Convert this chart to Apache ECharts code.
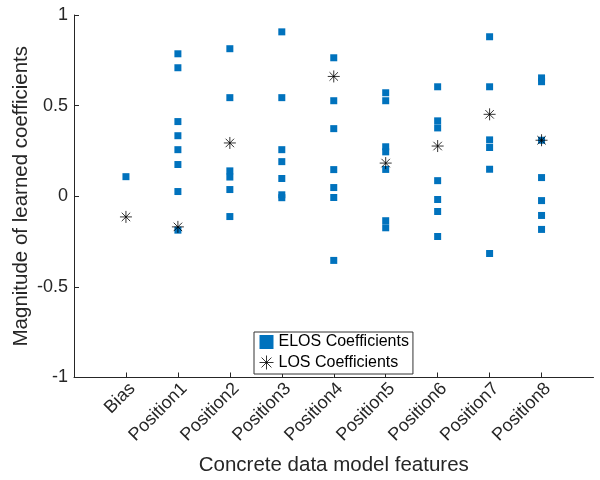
<!DOCTYPE html>
<html>
<head>
<meta charset="utf-8">
<script src="https://cdn.jsdelivr.net/npm/echarts@6/dist/echarts.min.js"></script>
<style>
  html, body { margin: 0; padding: 0; background: #fff; }
  #chart { width: 600px; height: 480px; }
</style>
</head>
<body>
<div id="chart"></div>
<script>
// feature names along the x axis
var categories = ['Bias', 'Position1', 'Position2', 'Position3', 'Position4',
                  'Position5', 'Position6', 'Position7', 'Position8'];

// ELOS coefficients, one list per feature
var elosBias = [0.108];
var elosPos1 = [0.786, 0.709, 0.412, 0.334, 0.257, 0.175, 0.026, -0.187];
var elosPos2 = [0.814, 0.544, 0.140, 0.106, 0.037, -0.112];
var elosPos3 = [0.907, 0.544, 0.257, 0.191, 0.098, 0.008, -0.008];
var elosPos4 = [0.764, 0.527, 0.373, 0.147, 0.048, -0.007, -0.354];
var elosPos5 = [0.571, 0.527, 0.273, 0.245, 0.148, -0.135, -0.174];
var elosPos6 = [0.604, 0.416, 0.377, 0.086, -0.018, -0.084, -0.222];
var elosPos7 = [0.880, 0.604, 0.311, 0.269, 0.149, -0.316];
var elosPos8 = [0.653, 0.632, 0.309, 0.103, -0.024, -0.106, -0.183];

// LOS coefficients (none shown for Position3)
var losValues = [-0.114, -0.169, 0.294, null, 0.661, 0.183, 0.277, 0.452, 0.309];

var elosLists = [elosBias, elosPos1, elosPos2, elosPos3, elosPos4,
                 elosPos5, elosPos6, elosPos7, elosPos8];

// features sit at x = 1..9 on an axis running 0..10
var xPositions = categories.map(function (c, i) { return i + 1; });

var elosData = [];
elosLists.forEach(function (list, i) {
  list.forEach(function (v) { elosData.push([i + 1, v]); });
});
var losData = [];
losValues.forEach(function (v, i) {
  if (v !== null) losData.push([i + 1, v]);
});

var star = 'path://M6,0L6,12M0,6L12,6M1.76,1.76L10.24,10.24M1.76,10.24L10.24,1.76';
var axisColor = '#262626';
var font = '"Liberation Sans", Arial, Helvetica, sans-serif';

var chart = echarts.init(document.getElementById('chart'));
chart.setOption({
  backgroundColor: '#fff',
  animation: false,
  textStyle: { fontFamily: font },
  grid: {
    left: 74, right: 6.5, top: 15, bottom: 102.5,
    containLabel: false, outerBoundsMode: 'none'
  },
  legend: {
    orient: 'vertical',
    left: 254,
    top: 332,
    padding: [2, 4, 2, 3],
    itemGap: 3,
    itemWidth: 14,
    itemHeight: 14,
    borderColor: '#333',
    borderWidth: 1,
    backgroundColor: '#fff',
    textStyle: { fontSize: 16, color: '#000', fontFamily: font },
    data: [
      { name: 'ELOS Coefficients', icon: 'rect' },
      { name: 'LOS Coefficients', icon: star, itemStyle: { borderWidth: 0.8 } }
    ]
  },
  xAxis: {
    type: 'value',
    position: 'bottom',
    min: 0,
    max: 10,
    name: 'Concrete data model features',
    nameLocation: 'middle',
    nameGap: 77,
    nameMoveOverlap: false,
    nameTextStyle: { fontSize: 20.5, color: axisColor },
    axisLine: { show: true, onZero: false, lineStyle: { color: axisColor, width: 1 } },
    axisTick: {
      show: true, inside: true, length: 5, customValues: xPositions,
      lineStyle: { color: axisColor }
    },
    axisLabel: {
      customValues: xPositions,
      formatter: function (v) { return categories[Math.round(v) - 1] || ''; },
      rotate: 45, fontSize: 18, color: axisColor,
      align: 'right', verticalAlign: 'top', margin: 2
    },
    splitLine: { show: false }
  },
  yAxis: {
    type: 'value',
    min: -1,
    max: 1,
    interval: 0.5,
    name: 'Magnitude of learned coefficients',
    nameLocation: 'middle',
    nameGap: 42,
    nameMoveOverlap: false,
    nameTextStyle: { fontSize: 20.5, color: axisColor },
    axisLine: { show: true, onZero: false, lineStyle: { color: axisColor, width: 1 } },
    axisTick: { show: true, inside: true, length: 5, lineStyle: { color: axisColor } },
    axisLabel: { fontSize: 18, color: axisColor, margin: 6 },
    splitLine: { show: false }
  },
  series: [
    {
      name: 'ELOS Coefficients',
      type: 'scatter',
      symbol: 'rect',
      symbolSize: 7,
      itemStyle: { color: '#0072BD', opacity: 1 },
      data: elosData
    },
    {
      name: 'LOS Coefficients',
      type: 'scatter',
      symbol: star,
      symbolSize: 12,
      itemStyle: { color: 'none', borderColor: '#000', borderWidth: 0.8, opacity: 1 },
      data: losData
    }
  ]
});
</script>
</body>
</html>
